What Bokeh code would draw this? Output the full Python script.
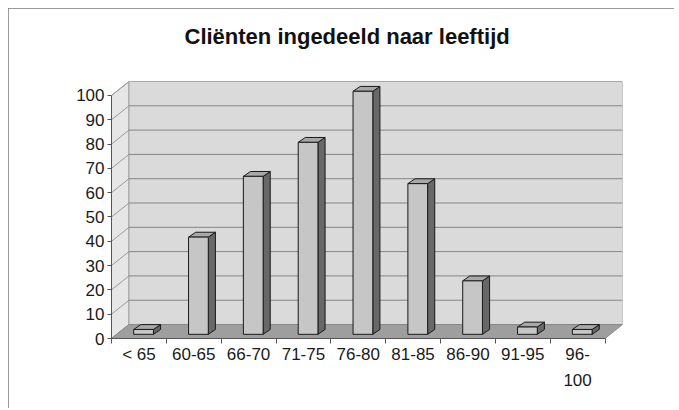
from bokeh.plotting import figure
from bokeh.models import Range1d, FixedTicker
from bokeh.embed import file_html
from bokeh.resources import INLINE

# ---- data ----
categories = ["< 65", "60-65", "66-70", "71-75", "76-80", "81-85", "86-90", "91-95", "96-100"]
axis_labels = ["< 65", "60-65", "66-70", "71-75", "76-80", "81-85", "86-90", "91-95", "96-\n100"]
counts = [2, 40, 65, 79, 100, 62, 22, 3, 2]
y_ticks = [0, 10, 20, 30, 40, 50, 60, 70, 80, 90, 100]
title_text = "Cliënten ingedeeld naar leeftijd"

# ---- 3D geometry (in data units) ----
n = len(categories)
wall_dx, wall_dy = 0.319, 5.75          # depth of walls
bar_off_x, bar_off_y = 0.085, 1.72      # bar front plane offset
bar_half = 0.18
bar_dx, bar_dy = 0.13, 2.0              # bar depth
y_max = y_ticks[-1]

p = figure(width=666, height=400, output_backend="svg", toolbar_location=None,
           x_range=Range1d(0, n + wall_dx), y_range=Range1d(0, y_max + wall_dy),
           min_border_left=103, min_border_right=52, min_border_top=72, min_border_bottom=70)
p.background_fill_color = "white"
p.border_fill_color = "white"
p.outline_line_color = None
p.xgrid.visible = False
p.ygrid.visible = False
p.styles = {"margin-left": "8px", "margin-top": "8px",
            "outline": "1px solid #7a7a7a", "outline-offset": "-1px"}

# title
p.title.text = title_text
p.title.text_font = "Liberation Sans"
p.title.text_font_size = "22px"
p.title.text_font_style = "bold"
p.title.text_color = "#111111"
p.title.align = "left"
p.title.offset = 73
p.title.padding = dict(left=0, right=0, top=0, bottom=19)
p.title.standoff = 27

# walls
p.patch([0, wall_dx, wall_dx, 0], [0, wall_dy, y_max + wall_dy, y_max],
        fill_color="#e6e6e6", line_color="#9a9a9a", line_width=1)
p.quad(left=[wall_dx], right=[n + wall_dx], bottom=[wall_dy], top=[y_max + wall_dy],
       fill_color="#dadada", line_color="#a0a0a0", line_width=1)

# gridlines on back wall and left wall
p.segment(x0=[wall_dx] * len(y_ticks), y0=[v + wall_dy for v in y_ticks],
          x1=[n + wall_dx] * len(y_ticks), y1=[v + wall_dy for v in y_ticks],
          line_color="#858585", line_width=1)
p.segment(x0=[0] * len(y_ticks), y0=y_ticks,
          x1=[wall_dx] * len(y_ticks), y1=[v + wall_dy for v in y_ticks],
          line_color="#9a9a9a", line_width=1)

# floor
p.patch([0, n, n + wall_dx, wall_dx], [0, 0, wall_dy, wall_dy],
        fill_color="#9e9e9e", line_color="#8a8a8a", line_width=1)

# bars
lefts = [i + 0.5 + bar_off_x - bar_half for i in range(n)]
rights = [i + 0.5 + bar_off_x + bar_half for i in range(n)]
bottoms = [bar_off_y] * n
tops = [c + bar_off_y for c in counts]

side_xs = [[r, r + bar_dx, r + bar_dx, r] for r in rights]
side_ys = [[b, b + bar_dy, t + bar_dy, t] for b, t in zip(bottoms, tops)]
top_xs = [[l, l + bar_dx, r + bar_dx, r] for l, r in zip(lefts, rights)]
top_ys = [[t, t + bar_dy, t + bar_dy, t] for t in tops]

p.patches(side_xs, side_ys, fill_color="#686868", line_color="#1a1a1a", line_width=1)
p.patches(top_xs, top_ys, fill_color="#a8a8a8", line_color="#1a1a1a", line_width=1)
p.quad(left=lefts, right=rights, bottom=bottoms, top=tops,
       fill_color="#c6c6c6", line_color="#1a1a1a", line_width=1)

# axes
xa = p.xaxis[0]
xa.ticker = FixedTicker(ticks=[i + 0.5 for i in range(n)], minor_ticks=list(range(n + 1)))
xa.major_label_overrides = {i + 0.5: lab for i, lab in enumerate(axis_labels)}
xa.bounds = (0, n)
xa.axis_line_color = "#555555"
xa.major_tick_line_color = None
xa.major_tick_out = 0
xa.major_tick_in = 0
xa.minor_tick_line_color = "#555555"
xa.minor_tick_out = 5
xa.minor_tick_in = 0
xa.major_label_standoff = 1
xa.major_label_text_font = "Liberation Sans"
xa.major_label_text_font_size = "17px"
xa.major_label_text_color = "#1a1a1a"
xa.major_label_text_line_height = 1.42

ya = p.yaxis[0]
ya.ticker = FixedTicker(ticks=y_ticks, minor_ticks=[])
ya.bounds = (0, y_max)
ya.axis_line_color = "#555555"
ya.major_tick_line_color = "#555555"
ya.major_tick_out = 4
ya.major_tick_in = 0
ya.minor_tick_line_color = None
ya.major_label_standoff = 3
ya.major_label_text_font = "Liberation Sans"
ya.major_label_text_font_size = "17px"
ya.major_label_text_color = "#1a1a1a"

open("out.html", "w").write(file_html(p, INLINE))
